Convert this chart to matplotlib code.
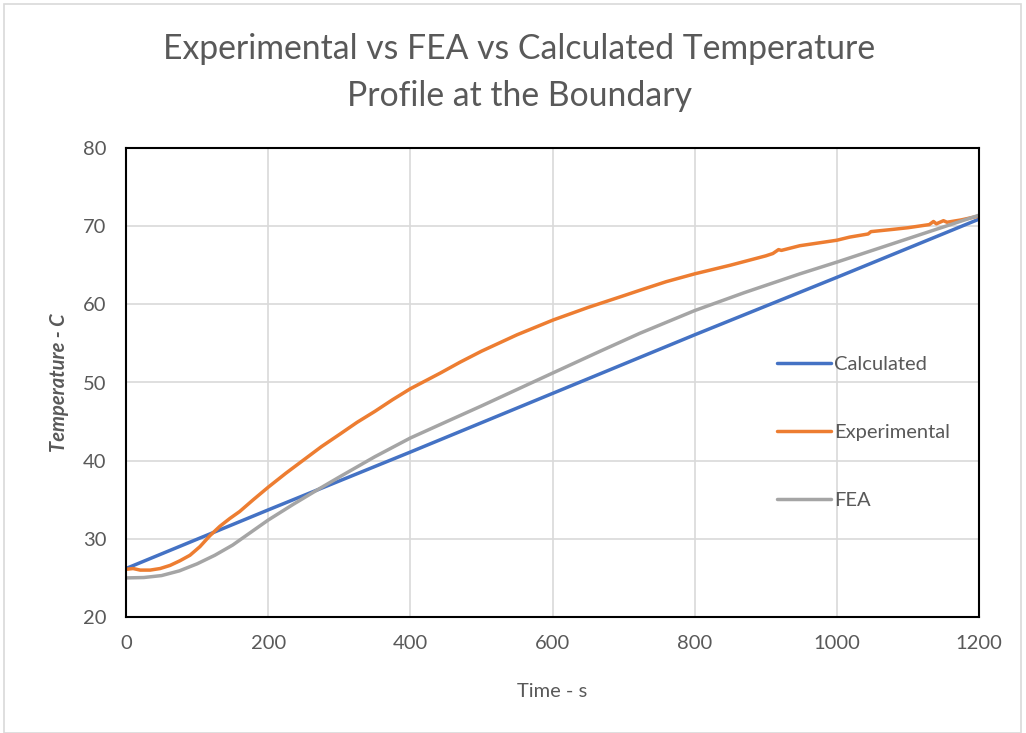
import matplotlib
matplotlib.use("Agg")
import matplotlib.pyplot as plt
from matplotlib.patches import Rectangle

plt.rcParams['font.family'] = ['Lato', 'DejaVu Sans']

# ---- data ----
calc_t = [0, 200, 400, 600, 800, 1000, 1200]
calc_T = [26.2, 33.7, 41.1, 48.6, 56.1, 63.45, 70.9]

exp_t = [0, 10, 20, 34, 48, 62, 76, 90, 104, 118, 132, 146, 160, 179, 200,
         225, 250, 275, 301, 325, 350, 375, 400, 442, 470, 500, 550, 601,
         650, 700, 723, 760, 800, 850, 900, 910, 918, 922, 948, 1000, 1018,
         1044, 1048, 1080, 1100, 1130, 1136, 1140, 1150, 1155, 1175, 1200]
exp_T = [26.1, 26.2, 26.0, 26.0, 26.2, 26.6, 27.2, 27.9, 29.0, 30.4, 31.6,
         32.6, 33.5, 35.0, 36.6, 38.4, 40.1, 41.8, 43.4, 44.9, 46.3, 47.8,
         49.2, 51.2, 52.6, 54.0, 56.1, 58.0, 59.6, 61.1, 61.8, 62.9, 63.9,
         65.0, 66.2, 66.5, 67.0, 66.9, 67.5, 68.2, 68.6, 69.0, 69.3, 69.6,
         69.8, 70.2, 70.6, 70.3, 70.7, 70.5, 70.8, 71.3]

fea_t = [0, 25, 50, 75, 100, 125, 150, 175, 200, 235, 268, 300, 350, 400,
         456, 500, 600, 667, 723, 800, 870, 948, 1000, 1100, 1200]
fea_T = [25.0, 25.05, 25.3, 25.9, 26.8, 27.9, 29.2, 30.8, 32.4, 34.4, 36.2,
         37.9, 40.5, 42.9, 45.2, 47.0, 51.2, 54.0, 56.3, 59.2, 61.5, 63.9,
         65.4, 68.4, 71.4]

series_names = ['Calculated', 'Experimental', 'FEA']
colors = ['#4472C4', '#ED7D31', '#A5A5A5']

x_ticks = [0, 200, 400, 600, 800, 1000, 1200]
y_ticks = [20, 30, 40, 50, 60, 70, 80]

W, H = 1026, 733
fig = plt.figure(figsize=(W / 100, H / 100), dpi=100)
fig.patches.append(Rectangle((4 / W, 0), 1017 / W, 1 - 4 / H,
                             transform=fig.transFigure, fill=False,
                             edgecolor='#d9d9d9', linewidth=1.2))

ax = fig.add_axes([126 / W, 1 - 617 / H, (979 - 126) / W, (617 - 148) / H])

lw = 2.5
ax.plot(calc_t, calc_T, color=colors[0], lw=lw, label=series_names[0],
        solid_capstyle='round', solid_joinstyle='round')
ax.plot(exp_t, exp_T, color=colors[1], lw=lw, label=series_names[1],
        solid_capstyle='round', solid_joinstyle='round')
ax.plot(fea_t, fea_T, color=colors[2], lw=lw, label=series_names[2],
        solid_capstyle='round', solid_joinstyle='round')

ax.set_xlim(0, 1200)
ax.set_ylim(20, 80)
ax.set_xticks(x_ticks)
ax.set_yticks(y_ticks)
ax.grid(True, color='#d9d9d9', linewidth=1.2)
ax.set_axisbelow(True)
for s in ax.spines.values():
    s.set_color('black')
    s.set_linewidth(1.5)
ax.tick_params(length=0, labelsize=14.5, labelcolor='#595959')
ax.tick_params(axis='x', pad=13)
ax.tick_params(axis='y', pad=14)

ax.set_xlabel('Time - s', fontsize=14.5, color='#595959', labelpad=22)
ax.set_ylabel('Temperature - C', fontsize=14.5, color='#595959',
              fontweight='bold', fontstyle='italic', labelpad=10)

fig.text(0.506, 1 - 72.5 / H,
         'Experimental vs FEA vs Calculated Temperature\nProfile at the Boundary',
         ha='center', va='center', fontsize=24.3, color='#595959', linespacing=1.58)

leg = ax.legend(loc='center left', bbox_to_anchor=(777 / W, 1 - 432.5 / H),
                bbox_transform=fig.transFigure, frameon=False,
                fontsize=14.5, handlelength=2.7, handletextpad=0.15,
                labelspacing=2.55, borderpad=0, borderaxespad=0)
for t in leg.get_texts():
    t.set_color('#595959')

fig.savefig('out.png', dpi=100)
